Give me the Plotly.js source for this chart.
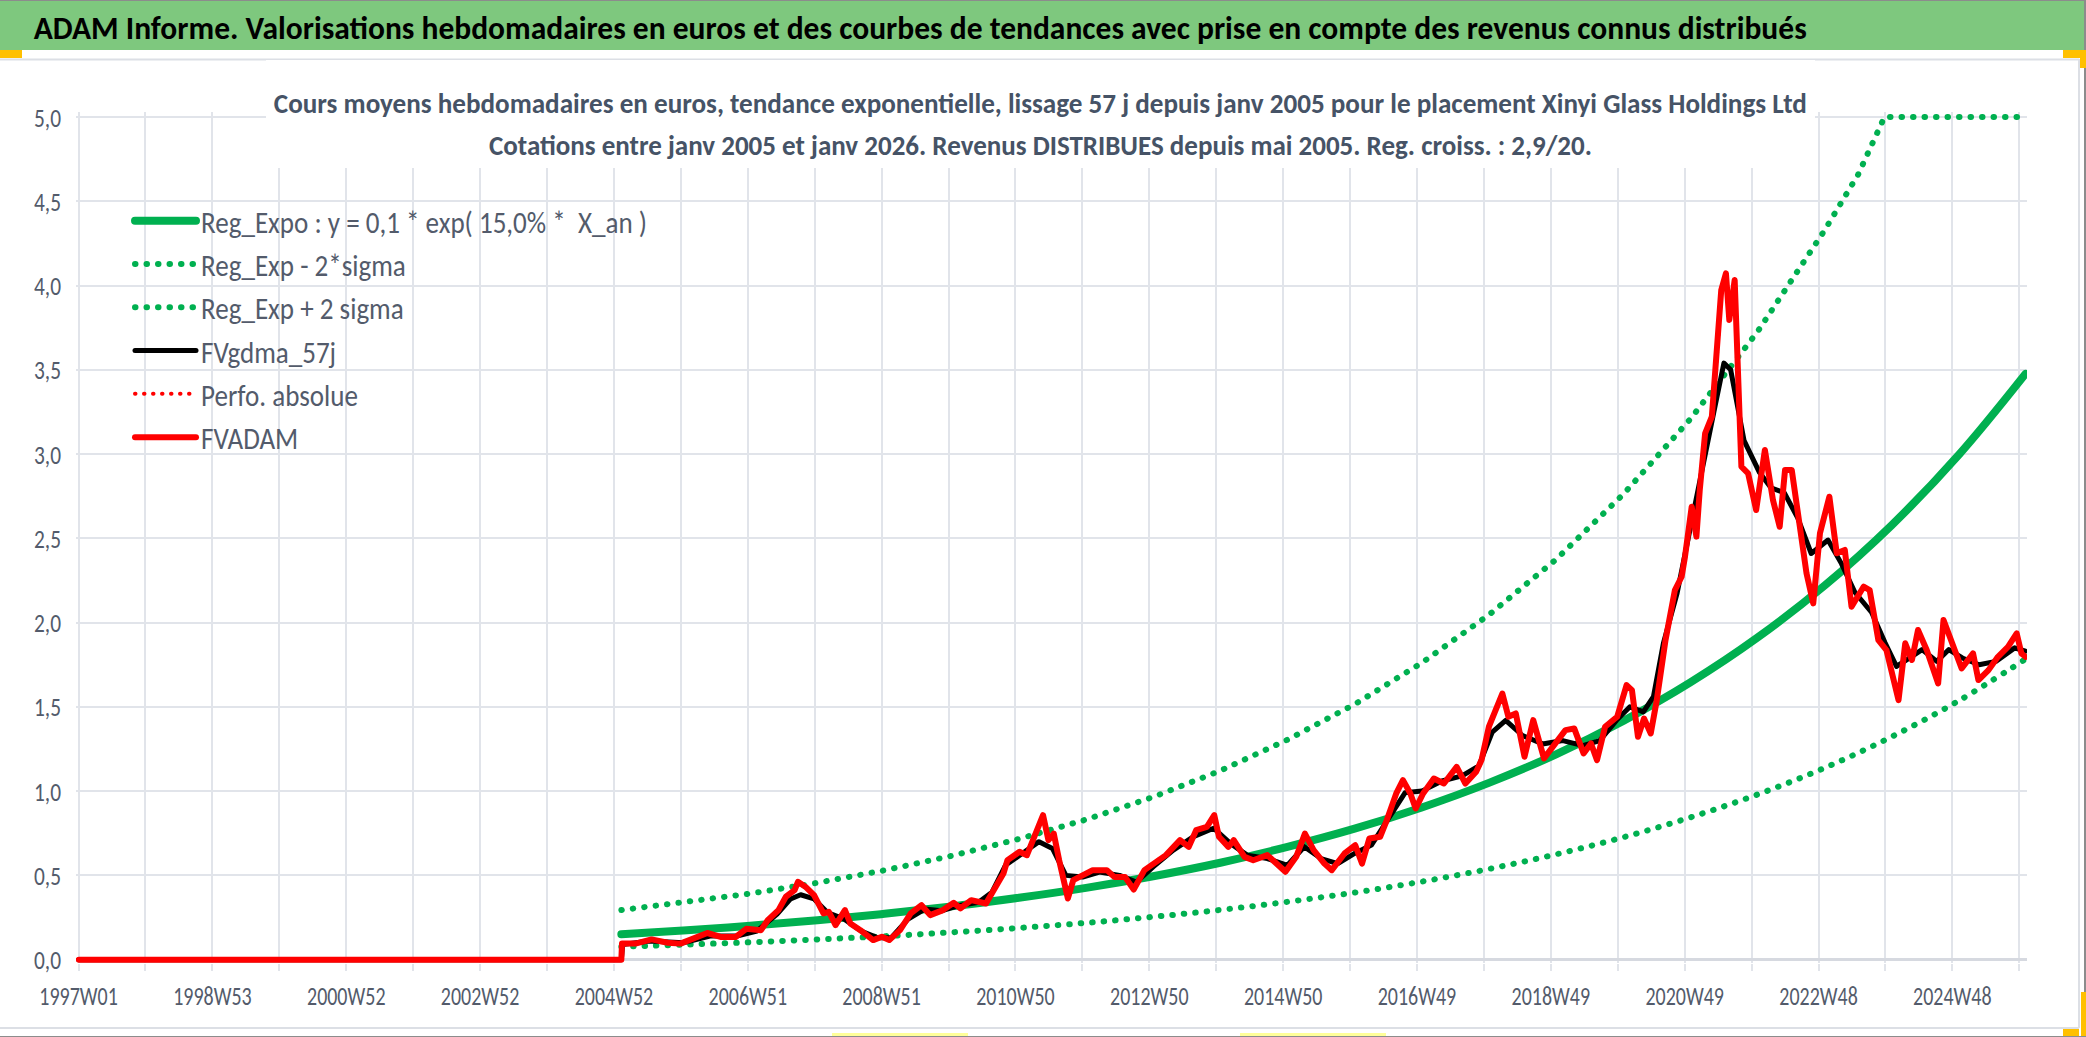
<!DOCTYPE html>
<html lang="fr">
<head>
<meta charset="utf-8">
<title>ADAM Informe - Xinyi Glass Holdings Ltd</title>
<script src="https://cdn.plot.ly/plotly-3.0.1.min.js"></script>
<style>
    html, body { margin: 0; padding: 0; background: #fff; }
    #chart { width: 2086px; height: 1037px; }
    /* Excel draws round dots and round joins */
    .js-line { stroke-linecap: round; stroke-linejoin: round; }
</style>
</head>
<body>
<div id="chart"></div>
<script>
    'use strict';

    // Tick labels of the weekly category axis (one label every 104 weeks)
    const tickLabels = ['1997W01', '1998W53', '2000W52', '2002W52', '2004W52', '2006W51', '2008W51',
        '2010W50', '2012W50', '2014W50', '2016W49', '2018W49', '2020W49', '2022W48', '2024W48'];

    // Exponential regression and +/- 2 sigma bands (decimal years, euros)
    const regAnnees = [2005.08, 2006, 2007, 2008, 2009, 2010, 2011, 2012, 2013, 2014, 2015,
        2016, 2017, 2018, 2019, 2020, 2021, 2022, 2023, 2024, 2025, 2025.99];
    const regExpo = [0.151, 0.173, 0.201, 0.234, 0.272, 0.316, 0.367, 0.426, 0.495, 0.575, 0.669,
        0.777, 0.903, 1.049, 1.218, 1.416, 1.645, 1.911, 2.220, 2.579, 2.997, 3.476];
    const regMoins = [0.077, 0.089, 0.103, 0.120, 0.139, 0.162, 0.188, 0.218, 0.254, 0.295, 0.343,
        0.398, 0.463, 0.538, 0.625, 0.726, 0.844, 0.980, 1.138, 1.323, 1.537, 1.783];
    const regPlusAnnees = [2005.08, 2006, 2007, 2008, 2009, 2010, 2011, 2012, 2013, 2014, 2015,
        2016, 2017, 2018, 2019, 2020, 2021, 2022, 2023, 2023.5, 2023.89, 2024, 2025, 2025.99];
    const regPlus = [0.294, 0.337, 0.392, 0.456, 0.530, 0.616, 0.716, 0.831, 0.965, 1.121, 1.305,
        1.515, 1.761, 2.046, 2.375, 2.761, 3.208, 3.726, 4.329, 4.660, 5.0, 5.0, 5.0, 5.0];

    // FVADAM weekly valuation (sampled)
    const fvAnnees = [1997.0, 2005.08, 2005.09, 2005.29, 2005.53, 2005.77, 2005.96, 2006.15, 2006.36,
        2006.57, 2006.78, 2006.94, 2007.16, 2007.26, 2007.42, 2007.53, 2007.66, 2007.71, 2007.82,
        2007.95, 2008.09, 2008.17, 2008.27, 2008.41, 2008.49, 2008.64, 2008.83, 2008.96, 2009.07,
        2009.23, 2009.39, 2009.55, 2009.68, 2009.87, 2010.03, 2010.13, 2010.29, 2010.51, 2010.61,
        2010.77, 2010.83, 2011.01, 2011.12, 2011.25, 2011.36, 2011.44, 2011.52, 2011.60, 2011.68,
        2011.73, 2011.81, 2011.94, 2012.10, 2012.31, 2012.42, 2012.58, 2012.71, 2012.87, 2013.03,
        2013.19, 2013.40, 2013.53, 2013.64, 2013.80, 2013.91, 2013.98, 2014.12, 2014.20, 2014.36,
        2014.49, 2014.70, 2014.97, 2015.13, 2015.26, 2015.39, 2015.55, 2015.66, 2015.85, 2016.01,
        2016.11, 2016.22, 2016.38, 2016.48, 2016.62, 2016.72, 2016.83, 2016.91, 2017.02, 2017.18,
        2017.33, 2017.52, 2017.65, 2017.81, 2017.89, 2018.00, 2018.11, 2018.20, 2018.29, 2018.40,
        2018.53, 2018.66, 2018.82, 2018.98, 2019.14, 2019.27, 2019.41, 2019.52, 2019.61, 2019.73,
        2019.91, 2020.05, 2020.13, 2020.22, 2020.31, 2020.41, 2020.50, 2020.63, 2020.77, 2020.87,
        2020.92, 2021.02, 2021.09, 2021.14, 2021.22, 2021.32, 2021.41, 2021.46, 2021.53, 2021.58,
        2021.66, 2021.71, 2021.76, 2021.86, 2021.98, 2022.11, 2022.23, 2022.33, 2022.41, 2022.51,
        2022.63, 2022.73, 2022.83, 2022.93, 2023.07, 2023.18, 2023.30, 2023.40, 2023.58, 2023.67,
        2023.80, 2023.92, 2024.10, 2024.20, 2024.30, 2024.39, 2024.52, 2024.69, 2024.77, 2024.87,
        2025.04, 2025.21, 2025.29, 2025.44, 2025.58, 2025.73, 2025.86, 2025.93, 2025.99];
    const fvadam = [0, 0, 0.095, 0.095, 0.120, 0.100, 0.095, 0.124, 0.158,
        0.134, 0.134, 0.183, 0.175, 0.234, 0.294, 0.373, 0.412, 0.462, 0.433,
        0.383, 0.274, 0.284, 0.205, 0.294, 0.215, 0.175, 0.116, 0.136, 0.116,
        0.175, 0.274, 0.323, 0.264, 0.294, 0.337, 0.304, 0.353, 0.333, 0.403,
        0.511, 0.590, 0.640, 0.620, 0.758, 0.857, 0.709, 0.748, 0.590, 0.452,
        0.363, 0.472, 0.501, 0.531, 0.531, 0.491, 0.491, 0.416, 0.531, 0.581,
        0.620, 0.709, 0.669, 0.768, 0.788, 0.858, 0.729, 0.669, 0.709, 0.610,
        0.590, 0.620, 0.521, 0.610, 0.748, 0.650, 0.570, 0.531, 0.630, 0.679,
        0.570, 0.719, 0.729, 0.828, 0.986, 1.065, 0.986, 0.897, 0.986, 1.075,
        1.045, 1.144, 1.045, 1.115, 1.184, 1.382, 1.500, 1.579, 1.441, 1.461,
        1.204, 1.421, 1.194, 1.283, 1.362, 1.372, 1.224, 1.283, 1.184, 1.382,
        1.441, 1.629, 1.599, 1.322, 1.431, 1.342, 1.540, 1.896, 2.193, 2.272,
        2.391, 2.688, 2.510, 2.787, 3.123, 3.222, 3.657, 3.974, 4.072, 3.796,
        4.033, 3.479, 2.925, 2.886, 2.668, 3.024, 2.728, 2.569, 2.906, 2.906,
        2.569, 2.292, 2.114, 2.530, 2.747, 2.411, 2.431, 2.094, 2.213, 2.193,
        1.896, 1.837, 1.540, 1.877, 1.778, 1.956, 1.837, 1.639, 2.015, 1.916,
        1.728, 1.817, 1.659, 1.718, 1.797, 1.856, 1.936, 1.817, 1.797];

    // FVgdma_57j smoothed valuation (sampled)
    const mmAnnees = [1997.0, 2005.08, 2005.10, 2005.5, 2006.0, 2006.4, 2006.8, 2007.1, 2007.4, 2007.6,
        2007.75, 2007.95, 2008.15, 2008.4, 2008.65, 2008.9, 2009.1, 2009.35, 2009.6, 2009.85, 2010.1,
        2010.4, 2010.6, 2010.8, 2011.05, 2011.3, 2011.5, 2011.7, 2011.95, 2012.2, 2012.5, 2012.75,
        2013.0, 2013.3, 2013.6, 2013.9, 2014.15, 2014.4, 2014.7, 2015.0, 2015.25, 2015.5, 2015.75,
        2016.0, 2016.25, 2016.5, 2016.75, 2017.0, 2017.3, 2017.6, 2017.85, 2018.05, 2018.25, 2018.5,
        2018.8, 2019.1, 2019.4, 2019.65, 2019.9, 2020.1, 2020.3, 2020.45, 2020.6, 2020.8, 2021.0,
        2021.2, 2021.35, 2021.5, 2021.6, 2021.8, 2022.03, 2022.2, 2022.4, 2022.6, 2022.8, 2023.05,
        2023.25, 2023.45, 2023.7, 2023.9, 2024.07, 2024.3, 2024.45, 2024.67, 2024.85, 2025.05,
        2025.3, 2025.55, 2025.83, 2025.99];
    const fvgdma = [0, 0, 0.090, 0.110, 0.100, 0.140, 0.140, 0.170, 0.270, 0.360,
        0.385, 0.360, 0.280, 0.240, 0.170, 0.130, 0.130, 0.240, 0.300, 0.290, 0.320,
        0.340, 0.400, 0.560, 0.630, 0.700, 0.660, 0.500, 0.490, 0.520, 0.500, 0.460,
        0.550, 0.650, 0.730, 0.780, 0.690, 0.620, 0.600, 0.560, 0.670, 0.600, 0.570,
        0.630, 0.680, 0.840, 0.990, 1.000, 1.060, 1.090, 1.150, 1.350, 1.420, 1.330,
        1.280, 1.300, 1.270, 1.300, 1.420, 1.500, 1.470, 1.560, 1.880, 2.170, 2.550,
        2.950, 3.250, 3.540, 3.500, 3.080, 2.890, 2.800, 2.770, 2.620, 2.410, 2.490,
        2.350, 2.180, 2.060, 1.880, 1.740, 1.800, 1.840, 1.770, 1.840, 1.790,
        1.750, 1.770, 1.850, 1.830];

    // ---- helpers ----------------------------------------------------------

    function weeksInIsoYear(year) {
        const jan1 = new Date(Date.UTC(year, 0, 1)).getUTCDay();
        const dec31 = new Date(Date.UTC(year, 11, 31)).getUTCDay();
        return (jan1 === 4 || dec31 === 4) ? 53 : 52;
    }

    // '2008W51' -> number of weeks since 1997W01
    function weekIndex(label) {
        const parts = label.split('W').map(Number);
        let n = 0;
        for (let y = 1997; y < parts[0]; y++) n += weeksInIsoYear(y);
        return n + parts[1] - 1;
    }

    // decimal year -> weeks since 1997W01 (Monday 30 Dec 1996)
    const toWeek = an => (an - 1996.997) * 365.2425 / 7;

    const W = 2086, H = 1037;
    const M = { l: 76, r: 59, t: 112, b: 74, pad: 0 };
    const px = x => (x - M.l) / (W - M.l - M.r);
    const py = y => 1 - (y - M.t) / (H - M.t - M.b);

    // Calibri clone; texts are squeezed afterwards to the reference widths
    const FONT = 'Carlito, Lato, "Open Sans", sans-serif';
    const GRID = '#e1e4ea';
    const TEXT = '#535b6b';

    // gridline every 52 weeks, label every other one
    const tickVals = [];
    const tickText = [];
    tickLabels.forEach(lab => {
        const w = weekIndex(lab);
        tickVals.push(w, w + 52);
        tickText.push(lab, '');
    });

    const traces = [
        {
            name: 'Reg_Expo : y = 0,1 * exp( 15,0% *  X_an )',
            x: regAnnees.map(toWeek), y: regExpo,
            mode: 'lines', line: { color: '#00b050', width: 8, shape: 'spline' }
        },
        {
            name: 'Reg_Exp - 2*sigma',
            x: regAnnees.map(toWeek), y: regMoins,
            mode: 'lines', line: { color: '#00b050', width: 6, dash: '0.5px,11px', shape: 'spline' }
        },
        {
            name: 'Reg_Exp + 2 sigma',
            x: regPlusAnnees.map(toWeek), y: regPlus,
            mode: 'lines', line: { color: '#00b050', width: 6, dash: '0.5px,11px' }
        },
        {
            name: 'FVgdma_57j',
            x: mmAnnees.map(toWeek), y: fvgdma,
            mode: 'lines', line: { color: '#000000', width: 5 }
        },
        {
            name: 'Perfo. absolue',
            x: fvAnnees.map(toWeek), y: fvadam,
            mode: 'lines', line: { color: '#ff0000', width: 4, dash: '0.5px,8.5px' }
        },
        {
            name: 'FVADAM',
            x: fvAnnees.map(toWeek), y: fvadam,
            mode: 'lines', line: { color: '#ff0000', width: 6 }
        }
    ];

    function rect(x0, y0, x1, y1, fill, layer) {
        return {
            type: 'rect', xref: 'paper', yref: 'paper',
            x0: px(x0), x1: px(x1), y0: py(y1), y1: py(y0),
            fillcolor: fill, line: { width: 0 }, layer: layer || 'below'
        };
    }
    function hline(x0, x1, y, color, width) {
        return {
            type: 'line', xref: 'paper', yref: 'paper',
            x0: px(x0), x1: px(x1), y0: py(y), y1: py(y),
            line: { color: color, width: width }, layer: 'below'
        };
    }
    function vline(x, y0, y1, color, width) {
        return {
            type: 'line', xref: 'paper', yref: 'paper',
            x0: px(x), x1: px(x), y0: py(y0), y1: py(y1),
            line: { color: color, width: width }, layer: 'below'
        };
    }

    const shapes = [
        rect(0, 0, W, 50, '#7ec87e'),
        hline(0, W, 0.5, '#8c8c8c', 1),
        vline(W - 1, 0, H, '#8c8c8c', 2),
        hline(0, W, H - 0.5, '#8c8c8c', 1),
        // chart frame
        hline(0, 2079, 59.5, '#dcdfe5', 2),
        hline(0, 2079, 1028, '#dcdfe5', 2),
        vline(2079, 59, 1028, '#dcdfe5', 2),
        // selection handles
        rect(0, 50, 22, 58, '#ffc000'),
        rect(2063, 50, 2086, 58, '#ffc000'),
        rect(2080, 50, 2086, 68, '#ffc000'),
        rect(2063, 1029, 2079, 1036, '#ffc000'),
        rect(2081, 992, 2086, 1036, '#ffc000'),
        rect(832, 1033, 968, 1036, '#ffff99'),
        rect(1240, 1033, 1386, 1036, '#ffff99'),
        // white box behind the chart title
        rect(266, 60, 1815, 168, '#ffffff', 'above')
    ];

    const annotations = [
        {
            text: '<b>ADAM Informe. Valorisations hebdomadaires en euros et des courbes de tendances avec prise en compte des revenus connus distribués</b>',
            xref: 'paper', yref: 'paper', x: px(919.5), y: py(28), xanchor: 'center', yanchor: 'middle',
            showarrow: false, font: { family: FONT, size: 33, color: '#000000' }
        },
        {
            text: '<b>Cours moyens hebdomadaires en euros, tendance exponentielle, lissage 57 j depuis janv 2005 pour le placement Xinyi Glass Holdings Ltd</b>',
            xref: 'paper', yref: 'paper', x: px(1040), y: py(104), xanchor: 'center', yanchor: 'middle',
            showarrow: false, font: { family: FONT, size: 28, color: '#465366' }
        },
        {
            text: '<b>Cotations entre janv 2005 et janv 2026. Revenus DISTRIBUES depuis mai 2005. Reg. croiss. : 2,9/20.</b>',
            xref: 'paper', yref: 'paper', x: px(1040), y: py(145), xanchor: 'center', yanchor: 'middle',
            showarrow: false, font: { family: FONT, size: 28, color: '#465366' }
        }
    ];
    // widths the texts take in the reference, in px
    const annotationWidths = [1773, 1533, 1103];

    const layout = {
        width: W,
        height: H,
        margin: M,
        paper_bgcolor: '#ffffff',
        plot_bgcolor: 'rgba(0,0,0,0)',
        separators: ', ',
        showlegend: true,
        font: { family: FONT, color: TEXT },
        xaxis: {
            range: [-2, 1514],
            tickmode: 'array',
            tickvals: tickVals,
            ticktext: tickText,
            showgrid: true,
            gridcolor: GRID,
            gridwidth: 2,
            zeroline: false,
            ticks: 'outside',
            ticklen: 7,
            tickwidth: 2,
            tickcolor: GRID,
            tickangle: 0,
            ticklabelstandoff: 2,
            tickfont: { family: FONT, size: 27, color: TEXT }
        },
        yaxis: {
            range: [-0.02, 5.03],
            tick0: 0,
            dtick: 0.5,
            tickformat: '.1f',
            showgrid: true,
            gridcolor: GRID,
            gridwidth: 2,
            zeroline: true,
            zerolinecolor: '#d6d9e0',
            zerolinewidth: 3,
            ticks: '',
            ticklabelstandoff: 14,
            tickfont: { family: FONT, size: 27, color: TEXT }
        },
        legend: {
            x: px(130),
            y: py(194),
            xanchor: 'left',
            yanchor: 'top',
            bgcolor: 'rgba(0,0,0,0)',
            itemwidth: 61,
            traceorder: 'normal',
            font: { family: FONT, size: 31, color: TEXT }
        },
        shapes: shapes,
        annotations: annotations
    };

    /**
     * Squeeze SVG texts horizontally (keeps them as real text)
     * @param {Element[]} nodes - text elements
     * @param {number} factor - width ratio to apply
     */
    function squeeze(nodes, factor) {
        nodes.forEach(node => {
            const len = node.getComputedTextLength();
            if (!len) return;
            node.setAttribute('textLength', (len * factor).toFixed(1));
            node.setAttribute('lengthAdjust', 'spacingAndGlyphs');
        });
    }

    Plotly.newPlot('chart', traces, layout, { displayModeBar: false, responsive: false })
        .then(gd => {
            const annTexts = gd.querySelectorAll('.annotation-text');
            annTexts.forEach((node, i) => {
                const len = node.getComputedTextLength();
                if (len) squeeze([node], annotationWidths[i] / len);
            });

            const xTicks = Array.from(gd.querySelectorAll('.xtick text'));
            const ref = xTicks.find(t => t.textContent === '1997W01');
            if (ref) squeeze(xTicks, 78.5 / ref.getComputedTextLength());

            const yTicks = Array.from(gd.querySelectorAll('.ytick text'));
            const ref5 = yTicks.find(t => t.textContent === '5,0');
            if (ref5) squeeze(yTicks, 27 / ref5.getComputedTextLength());

            const legTexts = Array.from(gd.querySelectorAll('.legendtext'));
            if (legTexts.length) squeeze(legTexts, 446 / legTexts[0].getComputedTextLength());
        });
</script>
</body>
</html>
